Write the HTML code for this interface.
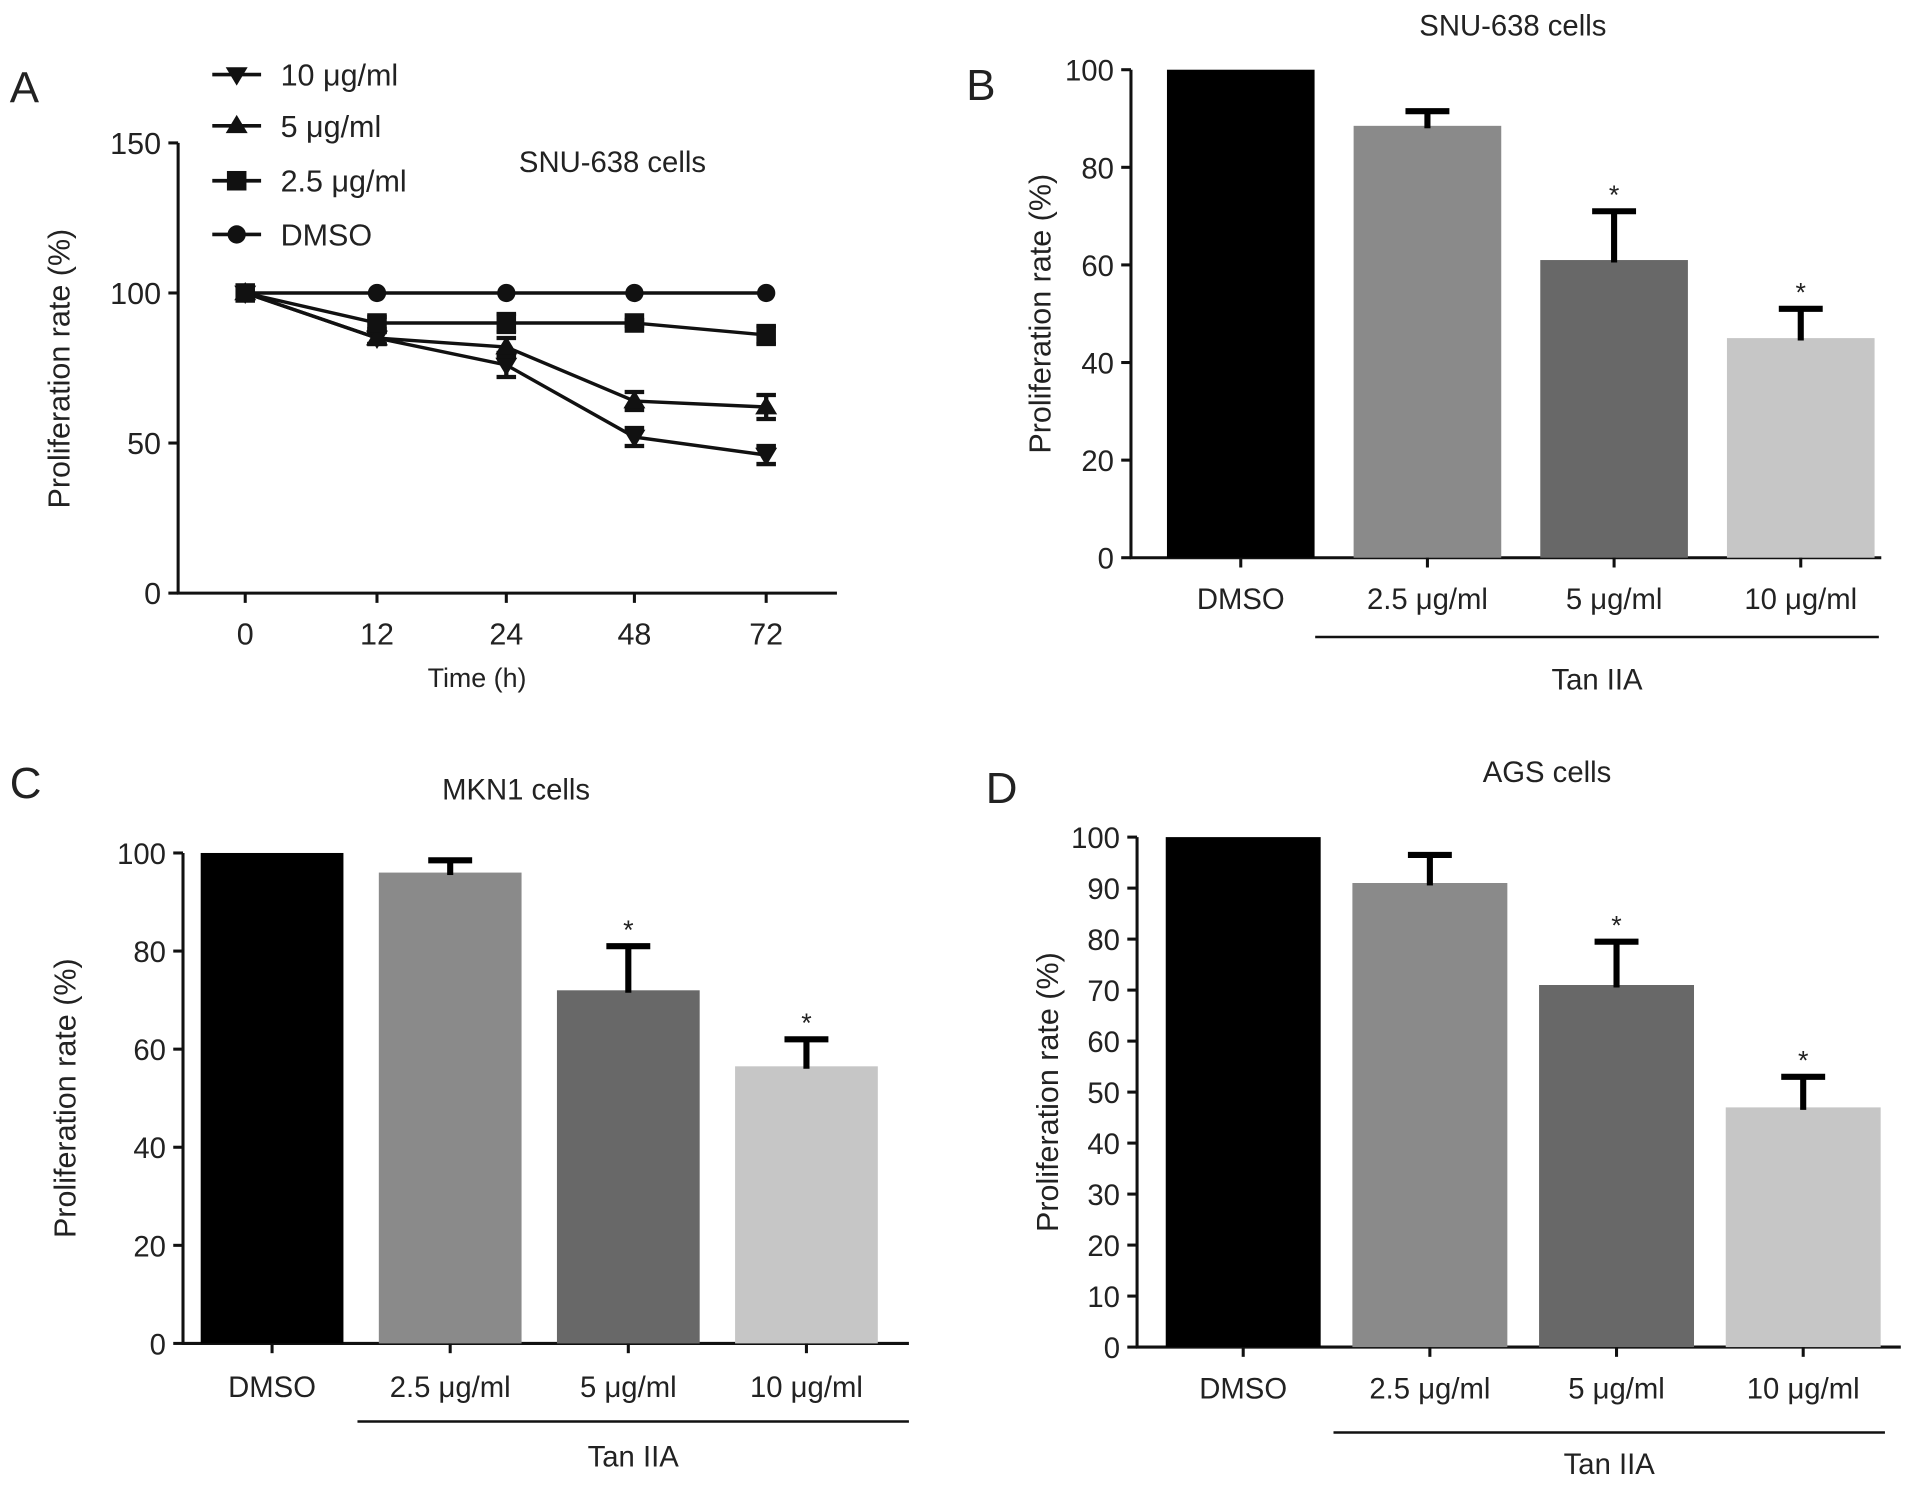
<!DOCTYPE html>
<html><head><meta charset="utf-8"><style>
html,body{margin:0;padding:0;background:#fff;}
svg{display:block;font-family:"Liberation Sans",Arial,sans-serif;}
</style></head><body>
<svg id="fig" width="1913" height="1490" viewBox="0 0 1568 1221" xmlns="http://www.w3.org/2000/svg"></svg>
<script>
// Panel A data
const timeLabels = ["0","12","24","48","72"];
const seriesNames = ["10 μg/ml","5 μg/ml","2.5 μg/ml","DMSO"];
const s10 = [100,85,76,52,46];
const s10err = [0,2,4,3,3];
const s5 = [100,85,82,64,62];
const s5err = [0,2,3,3,4];
const s25 = [100,90,90,90,86];
const s25err = [0,2,3,1,3];
const sDMSO = [100,100,100,100,100];
const sDMSOerr = [0,0,0,0,0];
const aTicks = [0,50,100,150];
// Bar panels
const barCats = ["DMSO","2.5 μg/ml","5 μg/ml","10 μg/ml"];
const bVals = [100,88.5,61,45];
const bErr = [0,3,10,6];
const cVals = [100,96,72,56.5];
const cErr = [0,2.5,9,5.5];
const dVals = [100,91,71,47];
const dErr = [0,5.5,8.5,6];
const bTicks = [0,20,40,60,80,100];
const dTicks = [0,10,20,30,40,50,60,70,80,90,100];
const sigFlags = [false,false,true,true];

const NS="http://www.w3.org/2000/svg";
const svg=document.getElementById('fig');
function el(tag,attrs,parent,text){const e=document.createElementNS(NS,tag);for(const k in attrs)e.setAttribute(k,attrs[k]);if(text!==undefined)e.textContent=text;(parent||svg).appendChild(e);return e;}
function txt(x,y,s,size,anchor,parent){const t=el('text',{x:x,y:y,'font-size':size,'text-anchor':anchor||'middle',fill:'#222'},parent,s);return t;}

// Panel letters
[["A",8,84],["B",792,82],["C",8,654],["D",808,658]].forEach(l=>{const t=txt(l[1],l[2],l[0],36,'start');

});

// ---------- Panel A ----------
(function(){
 const g=el('g',{});
 
 
 const X0=146,Y0=486,Y150=117,xs=[201,309,415,520,628];
 const y=v=>Y0-(v/150)*(Y0-Y150);
 const xi=i=>xs[i];
 el('line',{x1:X0,y1:Y150,x2:X0,y2:Y0+1,stroke:'#111','stroke-width':2.5},g);
 el('line',{x1:X0-1,y1:Y0,x2:686,y2:Y0,stroke:'#111','stroke-width':2.5},g);
 aTicks.forEach(t=>{el('line',{x1:X0-8,y1:y(t),x2:X0,y2:y(t),stroke:'#111','stroke-width':2.5},g);
  txt(X0-14,y(t)+9,String(t),25,'end',g);});
 timeLabels.forEach((l,i)=>{el('line',{x1:xi(i),y1:Y0,x2:xi(i),y2:Y0+8,stroke:'#111','stroke-width':2.5},g);
  txt(xi(i),Y0+42,l,25,'middle',g);});
 txt(391,563,'Time (h)',22,'middle',g);
 const yt=txt(0,0,'Proliferation rate (%)',25,'middle',g);yt.setAttribute('transform','translate(57,302) rotate(-90)');
 txt(502,141,'SNU-638 cells',24,'middle',g);
 const all=[[s10,s10err,'tri-down'],[s5,s5err,'tri-up'],[s25,s25err,'square'],[sDMSO,sDMSOerr,'circle']];
 function marker(cx,cy,type,parent){
  if(type==='circle')return el('circle',{cx:cx,cy:cy,r:7.5,fill:'#111'},parent);
  if(type==='square')return el('rect',{x:cx-8,y:cy-8,width:16,height:16,fill:'#111'},parent);
  if(type==='tri-up')return el('polygon',{points:`${cx-9},${cy+6} ${cx+9},${cy+6} ${cx},${cy-9}`,fill:'#111'},parent);
  return el('polygon',{points:`${cx-9},${cy-6} ${cx+9},${cy-6} ${cx},${cy+9}`,fill:'#111'},parent);
 }
 all.forEach((s,si)=>{
  const sg=el('g',{},g);
  
  
  el('polyline',{points:s[0].map((v,i)=>xi(i)+','+y(v)).join(' '),fill:'none',stroke:'#111','stroke-width':2.8},sg);
  s[0].forEach((v,i)=>{
   if(s[1][i]>0){const a=y(v+s[1][i]),b=y(v-s[1][i]);
    el('line',{x1:xi(i),y1:a,x2:xi(i),y2:b,stroke:'#111','stroke-width':3.5},sg);
    el('line',{x1:xi(i)-8,y1:a,x2:xi(i)+8,y2:a,stroke:'#111','stroke-width':3.5},sg);
    el('line',{x1:xi(i)-8,y1:b,x2:xi(i)+8,y2:b,stroke:'#111','stroke-width':3.5},sg);}
   const m=marker(xi(i),y(v),s[2],sg);
   
   
  });
  // legend
  const ly=[61,103,148,192][si];
  const lg=el('g',{},g);
  
  
  el('line',{x1:174,y1:ly,x2:214,y2:ly,stroke:'#111','stroke-width':3},lg);
  marker(194,ly,s[2],lg);
  txt(230,ly+9,seriesNames[si],25,'start',lg);
 });
})();

// ---------- bar panels ----------
const colors=['#000000','#8a8a8a','#686868','#c6c6c6'];
function barPanel(o){
 const g=el('g',{});
 
 
 const y=v=>o.Y0-(v/100)*(o.Y0-o.Y100);
 el('line',{x1:o.X0,y1:o.Y100,x2:o.X0,y2:o.Y0+1,stroke:'#111','stroke-width':2.5},g);
 el('line',{x1:o.X0-1,y1:o.Y0,x2:o.xEnd,y2:o.Y0,stroke:'#111','stroke-width':2.5},g);
 o.ticks.forEach(t=>{el('line',{x1:o.X0-8,y1:y(t),x2:o.X0,y2:y(t),stroke:'#111','stroke-width':2.5},g);
  txt(o.X0-14,y(t)+9,String(t),24,'end',g);});
 const yt=txt(0,0,'Proliferation rate (%)',25,'middle',g);yt.setAttribute('transform',`translate(${o.ylx},${(o.Y0+o.Y100)/2}) rotate(-90)`);
 txt(o.titleX,o.titleY,o.title,24,'middle',g);
 const bw=o.bw;
 o.vals.forEach((v,i)=>{
  const cx=o.c0+o.step*i;
  const r=el('rect',{x:cx-bw/2,y:y(v),width:bw,height:o.Y0-y(v),fill:colors[i]},g);
  
  
  if(o.err[i]>0){const a=y(v+o.err[i]);
   el('line',{x1:cx,y1:y(v)+2,x2:cx,y2:a,stroke:'#000','stroke-width':5},g);
   el('line',{x1:cx-18,y1:a,x2:cx+18,y2:a,stroke:'#000','stroke-width':5},g);
   if(sigFlags[i])txt(cx,a-6,'*',22,'middle',g);}
  el('line',{x1:cx,y1:o.Y0,x2:cx,y2:o.Y0+8,stroke:'#111','stroke-width':2.5},g);
  txt(cx,o.labY,barCats[i],24,'middle',g);
 });
 el('line',{x1:o.lx1,y1:o.lineY,x2:o.lx2,y2:o.lineY,stroke:'#111','stroke-width':2},g);
 txt((o.lx1+o.lx2)/2,o.tanY,'Tan IIA',24,'middle',g);
}
barPanel({name:'panel-b-bar-chart',X0:927,xEnd:1542,Y0:457,Y100:57,c0:1017,step:153,bw:121,vals:bVals,err:bErr,ticks:bTicks,ylx:861,title:'SNU-638 cells',titleX:1240,titleY:29,labY:499,lineY:522,lx1:1078,lx2:1540,tanY:565});
barPanel({name:'panel-c-bar-chart',X0:150,xEnd:745,Y0:1101,Y100:699,c0:223,step:146,bw:117,vals:cVals,err:cErr,ticks:bTicks,ylx:62,title:'MKN1 cells',titleX:423,titleY:655,labY:1145,lineY:1165,lx1:293,lx2:745,tanY:1202});
barPanel({name:'panel-d-bar-chart',X0:932,xEnd:1558,Y0:1104,Y100:686,c0:1019,step:153,bw:127,vals:dVals,err:dErr,ticks:dTicks,ylx:867,title:'AGS cells',titleX:1268,titleY:641,labY:1146,lineY:1174,lx1:1093,lx2:1545,tanY:1208});
</script>
</body></html>
